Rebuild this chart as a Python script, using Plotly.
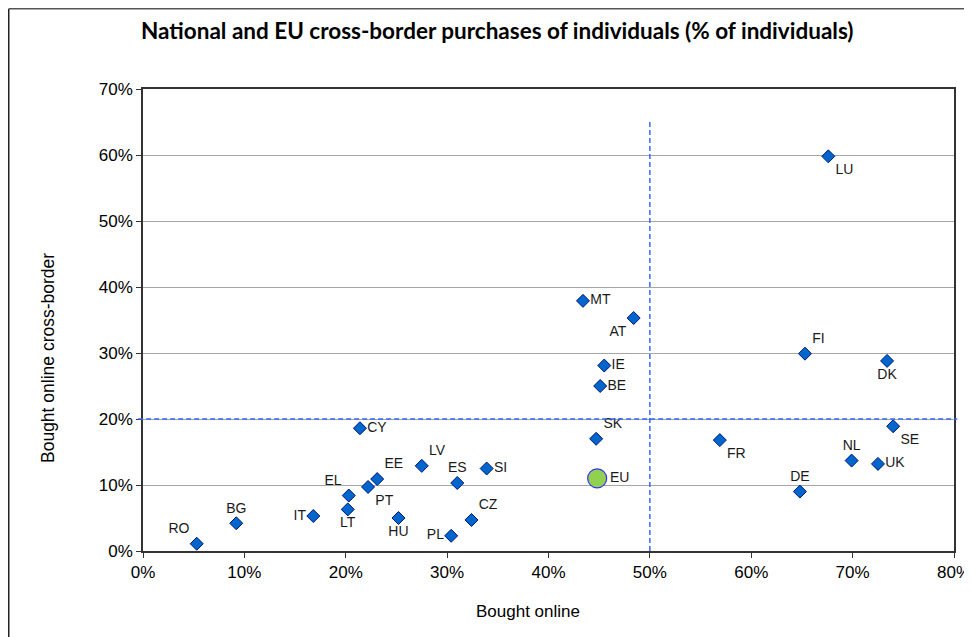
import plotly.graph_objects as go

# --- Data (in %) ---
countries = ["RO", "BG", "IT", "LT", "EL", "PT", "EE", "HU", "LV", "ES", "SI", "PL", "CZ", "CY",
             "SK", "BE", "IE", "MT", "AT", "LU", "FI", "DK", "SE", "FR", "NL", "UK", "DE"]
bought_online = [5.3, 9.2, 16.8, 20.2, 20.3, 22.2, 23.1, 25.2, 27.5, 31.0, 33.9, 30.4, 32.4, 21.4,
                 44.7, 45.1, 45.5, 43.4, 48.4, 67.6, 65.3, 73.4, 74.0, 56.9, 69.9, 72.5, 64.8]
bought_cross_border = [1.1, 4.2, 5.3, 6.3, 8.4, 9.7, 10.9, 5.0, 12.9, 10.3, 12.5, 2.3, 4.7, 18.6,
                       17.0, 25.0, 28.1, 37.9, 35.3, 59.8, 29.9, 28.8, 18.9, 16.8, 13.7, 13.2, 9.0]

eu_label = "EU"
eu_online = 44.8
eu_cross_border = 11.0

x_ticks = [0, 10, 20, 30, 40, 50, 60, 70, 80]
y_ticks = [0, 10, 20, 30, 40, 50, 60, 70]
tick_labels_x = ["0%", "10%", "20%", "30%", "40%", "50%", "60%", "70%", "80%"]
tick_labels_y = ["0%", "10%", "20%", "30%", "40%", "50%", "60%", "70%"]

# where each country label sits around its marker
label_pos = {
    "RO": "top left", "BG": "top center", "IT": "middle left", "LT": "bottom center",
    "EL": "top left", "PT": "bottom right", "EE": "top right", "HU": "bottom center",
    "LV": "top right", "ES": "top center", "SI": "middle right", "PL": "middle left",
    "CZ": "top right", "CY": "middle right", "SK": "top right", "BE": "middle right",
    "IE": "middle right", "MT": "middle right", "AT": "bottom left", "LU": "bottom right",
    "FI": "top right", "DK": "bottom center", "SE": "bottom right", "FR": "bottom right",
    "NL": "top center", "UK": "middle right", "DE": "top center",
}

# --- Layout geometry (pixels) ---
# the page puts the figure 8px in from the top-left corner (body margin)
OFF = 8
W, H = 972 - OFF, 637 - OFF
L, R, T, B = 135, 18, 81, 86
PW, PH = W - L - R, H - T - B


def px_x(px):
    # page pixel -> paper x
    return (px - OFF - L) / PW


def px_y(py):
    # page pixel -> paper y
    return (H - B - (py - OFF)) / PH


AX_FONT = "Liberation Sans, Arial, sans-serif"
REF_LINE = dict(color="#3366FF", width=1.5, dash="5px,3px")

fig = go.Figure()

fig.add_trace(go.Scatter(
    x=bought_online,
    y=bought_cross_border,
    mode="markers+text",
    text=countries,
    textposition=[label_pos[c] for c in countries],
    textfont=dict(family=AX_FONT, size=14, color="#1a1a1a"),
    marker=dict(symbol="diamond", size=10, color="#0066CC",
                line=dict(color="#00157A", width=1)),
    cliponaxis=False,
    showlegend=False,
))

fig.add_trace(go.Scatter(
    x=[eu_online],
    y=[eu_cross_border],
    mode="markers+text",
    text=[eu_label],
    textposition="middle right",
    textfont=dict(family=AX_FONT, size=14, color="#1a1a1a"),
    marker=dict(symbol="circle", size=19, color="#92D050",
                line=dict(color="#3333FF", width=1.2)),
    cliponaxis=False,
    showlegend=False,
))

# dashed reference lines at 50% online / 20% cross-border
fig.add_shape(type="line", xref="x", yref="y", x0=50, x1=50, y0=0, y1=65,
              line=REF_LINE, layer="above")
fig.add_shape(type="line", xref="paper", yref="y", x0=-0.006, x1=1.004, y0=20, y1=20,
              line=REF_LINE, layer="above")

# outer frame of the chart box (kept just inside the figure)
fx0, fx1 = px_x(OFF + 0.75), px_x(967.5)
fy0, fy1 = px_y(OFF + 0.75), px_y(645)
fig.add_shape(type="line", xref="paper", yref="paper", x0=fx0, x1=fx0, y0=fy0, y1=fy1,
              line=dict(color="#222222", width=1.5))
fig.add_shape(type="line", xref="paper", yref="paper", x0=fx1, x1=fx1, y0=fy0, y1=fy1,
              line=dict(color="#555555", width=1.5))
fig.add_shape(type="line", xref="paper", yref="paper", x0=fx0, x1=fx1, y0=fy0, y1=fy0,
              line=dict(color="#555555", width=1.5))

fig.add_annotation(
    text="<b>National and EU cross-border purchases of individuals (% of individuals)</b>",
    xref="paper", yref="paper", x=px_x(496.5), y=px_y(31),
    xanchor="center", yanchor="middle", showarrow=False,
    font=dict(family="Lato, Open Sans, sans-serif", size=22.5, color="#000000"),
)
fig.add_annotation(
    text="Bought online", xref="paper", yref="paper", x=px_x(528), y=px_y(611),
    xanchor="center", yanchor="middle", showarrow=False,
    font=dict(family=AX_FONT, size=17, color="#000000"),
)
fig.add_annotation(
    text="Bought online cross-border", xref="paper", yref="paper", x=px_x(48), y=px_y(358),
    xanchor="center", yanchor="middle", showarrow=False, textangle=-90,
    font=dict(family=AX_FONT, size=17.5, color="#000000"),
)

fig.update_xaxes(
    range=[0, 80], tickvals=x_ticks, ticktext=tick_labels_x,
    showgrid=False, zeroline=False, automargin=False,
    showline=True, linecolor="#333333", linewidth=1.5, mirror=True,
    ticks="outside", ticklen=5, tickcolor="#333333",
    tickfont=dict(family=AX_FONT, size=17, color="#000000"),
)
fig.update_yaxes(
    range=[0, 70], tickvals=y_ticks, ticktext=tick_labels_y,
    showgrid=True, gridcolor="#A6A6A6", gridwidth=1, zeroline=False, automargin=False,
    showline=True, linecolor="#333333", linewidth=1.5, mirror=True,
    ticks="outside", ticklen=5, tickcolor="#333333",
    tickfont=dict(family=AX_FONT, size=17, color="#000000"),
)

fig.update_layout(
    width=W, height=H,
    margin=dict(l=L, r=R, t=T, b=B),
    plot_bgcolor="white", paper_bgcolor="white",
    showlegend=False,
)

fig.write_html("out.html")
